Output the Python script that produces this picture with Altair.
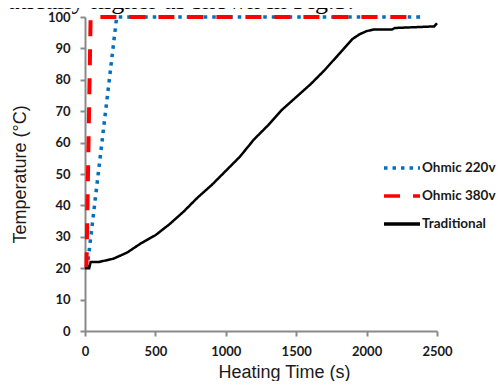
import altair as alt
import pandas as pd

series_names = ["Ohmic 220v", "Ohmic 380v", "Traditional"]
series_colors = ["#0070C0", "#FF0000", "#000000"]

ohmic220_time = [15, 225, 2380]
ohmic220_temp = [20, 100, 100]

ohmic380_time = [10, 40, 2380]
ohmic380_temp = [20, 100, 100]

trad_time = [0, 30, 40, 100, 200, 300, 400, 500, 600, 700, 800, 900, 1000,
             1100, 1200, 1300, 1400, 1500, 1600, 1700, 1800, 1900, 1950, 2000,
             2050, 2180, 2200, 2480, 2500]
trad_temp = [20, 20, 22, 22, 23, 25, 28, 30.5, 34, 38, 42.5, 46.5, 51,
             55.5, 61, 65.5, 70.5, 74.5, 78.5, 83, 88, 93, 94.5, 95.5,
             96, 96, 96.5, 97, 98]

x_ticks = [0, 500, 1000, 1500, 2000, 2500]
y_ticks = [0, 10, 20, 30, 40, 50, 60, 70, 80, 90, 100]

top_text = "atically higher as shown in Fig.3."

rows = []
for name, ts, vs in [(series_names[0], ohmic220_time, ohmic220_temp),
                     (series_names[1], ohmic380_time, ohmic380_temp),
                     (series_names[2], trad_time, trad_temp)]:
    for i, (t, v) in enumerate(zip(ts, vs)):
        rows.append({"series": name, "time": t, "temp": v, "idx": i})
df = pd.DataFrame(rows)

axis_common = dict(
    grid=False, labelFlush=False, format="d",
    domainColor="#8a8a8a", domainWidth=2,
    tickColor="#8a8a8a", tickWidth=2, tickSize=5,
    labelFont="Lato", labelFontWeight="bold", labelFontSize=13,
    labelColor="#1a1a1a",
    titleFont="Liberation Sans", titleFontWeight="normal", titleFontSize=18,
    titleColor="#1a1a1a",
)

x_enc = alt.X("time:Q", scale=alt.Scale(domain=[0, 2500], nice=False),
              axis=alt.Axis(values=x_ticks, title="Heating Time (s)",
                            labelPadding=9, titleX=199, titleY=46,
                            titleBaseline="alphabetic", titleAlign="center",
                            **axis_common))
y_enc = alt.Y("temp:Q", scale=alt.Scale(domain=[0, 100], nice=False),
              axis=alt.Axis(values=y_ticks, title="Temperature (°C)",
                            labelPadding=10, titleX=-60, titleY=157,
                            titleAngle=270, titleBaseline="alphabetic",
                            titleAlign="center", **axis_common))

legend = alt.Legend(title=None, orient="none", legendX=297, legendY=131,
                    symbolType="stroke", symbolSize=1296, symbolStrokeWidth=3.5,
                    labelFont="Lato", labelFontWeight="bold", labelFontSize=13.5,
                    labelColor="#1a1a1a", labelOffset=0, rowPadding=1)

color_enc = alt.Color("series:N",
                      scale=alt.Scale(domain=series_names, range=series_colors),
                      legend=legend)
dash_enc = alt.StrokeDash("series:N",
                          scale=alt.Scale(domain=series_names,
                                          range=[[3.5, 5], [16, 13], [1, 0]]),
                          legend=legend)

widths = [3.5, 4, 2.5]
layers = []
for name, w in zip(series_names, widths):
    layers.append(
        alt.Chart(df).transform_filter(alt.datum.series == name)
        .mark_line(strokeWidth=w, clip=False)
        .encode(x=x_enc, y=y_enc, color=color_enc, strokeDash=dash_enc,
                order="idx:Q")
    )

text_layer = alt.Chart(pd.DataFrame({"t": [top_text]})).mark_text(
    align="left", baseline="alphabetic", font="Liberation Serif",
    fontSize=26, color="#000000"
).encode(x=alt.value(-77), y=alt.value(-8.5), text="t:N")

chart = alt.layer(*layers, text_layer).properties(
    width=352, height=314,
    padding={"left": 77, "top": 9, "right": 59, "bottom": 50},
    autosize=alt.AutoSizeParams(type="none"),
).configure_view(strokeWidth=0)

chart.save("out.html", embed_options={"renderer": "svg", "actions": False})
